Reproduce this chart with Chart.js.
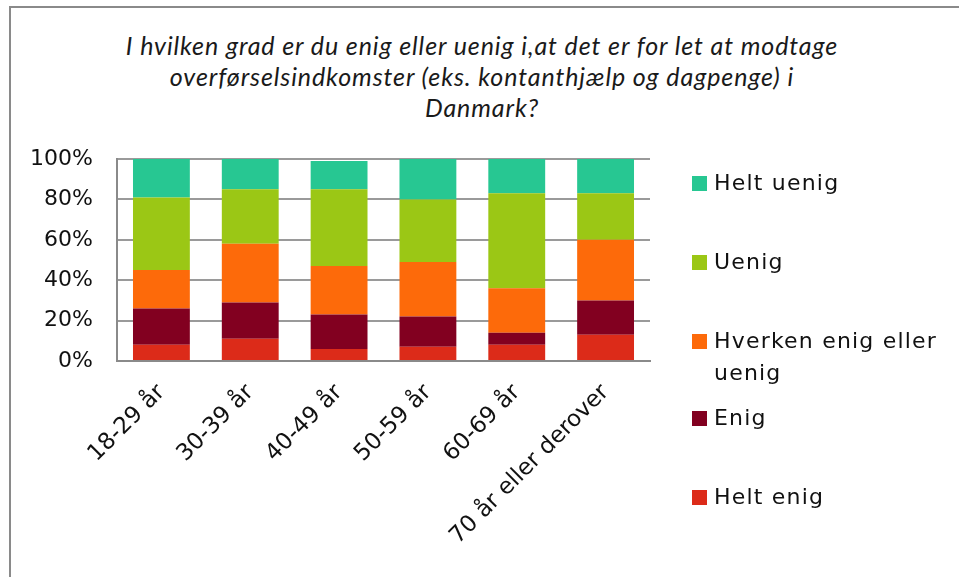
<!DOCTYPE html>
<html>
<head>
<meta charset="utf-8">
<script src="https://cdn.jsdelivr.net/npm/chart.js@4.4.0/dist/chart.umd.min.js"></script>
<style>
  body { margin: 0; background: #fff; }
  #wrap { position: relative; width: 959px; height: 577px; overflow: hidden; background: #fff; }
  #frame { position: absolute; left: 9px; top: 6px; width: 960px; height: 600px;
           border-left: 2px solid #8a8a8a; border-top: 2px solid #8a8a8a; }
  #title { position: absolute; left: 0; width: 964px; top: 30px; text-align: center;
           font-family: Lato, sans-serif; font-style: italic; font-size: 25px; letter-spacing: 0.9px;
           line-height: 31px; color: #1a1a1a; }
  #mychart { position: absolute; left: 0; top: 0; }
  .lg { position: absolute; left: 692px; font-family: "DejaVu Sans", sans-serif; font-size: 22px;
        letter-spacing: 1.2px; line-height: 32px; color: #111; width: 265px; }
  .lg i { position: absolute; left: 0; top: 9px; width: 15px; height: 15px; }
  .lg span { display: block; margin-left: 22px; }
</style>
</head>
<body>
<div id="wrap">
  <div id="frame"></div>
  <div id="title">I hvilken grad er du enig eller uenig i,at det er for let at modtage<br>overførselsindkomster (eks. kontanthjælp og dagpenge) i<br>Danmark?</div>
  <canvas id="mychart" width="959" height="577"></canvas>
  <div id="legend"></div>
</div>
<script>
// data
const labels = ['18-29 år', '30-39 år', '40-49 år', '50-59 år', '60-69 år', '70 år eller derover'];
const heltEnig = [8, 11, 6, 7, 8, 13];
const enig = [18, 18, 17, 15, 6, 17];
const hverken = [19, 29, 24, 27, 22, 30];
const uenig = [36, 27, 38, 31, 47, 23];
const heltUenig = [19, 15, 14, 20, 17, 17];
const yTicks = ['0%', '20%', '40%', '60%', '80%', '100%'];

const font = '"DejaVu Sans", sans-serif';

let ctx = document.getElementById('mychart');
let myChart = new Chart(ctx, {
  type: 'bar',
  data: {
    labels: labels,
    datasets: [
      { label: 'Helt enig', data: heltEnig, backgroundColor: '#dc2b19' },
      { label: 'Enig', data: enig, backgroundColor: '#820020' },
      { label: 'Hverken enig eller uenig', data: hverken, backgroundColor: '#fd6a0a' },
      { label: 'Uenig', data: uenig, backgroundColor: '#9bc715' },
      { label: 'Helt uenig', data: heltUenig, backgroundColor: '#27c792' },
    ],
  },
  options: {
    responsive: false,
    animation: false,
    layout: { padding: { left: 20, right: 309, top: 159, bottom: 0 } },
    plugins: {
      legend: { display: false },
      tooltip: { enabled: false },
    },
    datasets: { bar: { categoryPercentage: 1, barPercentage: 0.64 } },
    scales: {
      x: {
        stacked: true,
        grid: { display: false },
        border: { color: '#8a8a8a', width: 2 },
        ticks: { color: '#111', font: { family: font, size: 23 }, minRotation: 45, maxRotation: 45, padding: 10 },
        afterFit: (s) => { s.height = 216; },
      },
      y: {
        stacked: true,
        min: 0,
        max: 100,
        grid: { color: '#9a9a9a', lineWidth: 2, drawTicks: false },
        border: { color: '#8a8a8a', width: 2 },
        ticks: {
          stepSize: 20,
          color: '#111',
          padding: 24,
          font: { family: font, size: 22 },
          callback: (v) => yTicks[v / 20],
        },
        afterFit: (s) => { s.width = 97; },
      },
    },
  },
});

// legend (Excel style, reversed)
const lgTops = [167, 246, 325, 402, 481];
const legend = document.getElementById('legend');
myChart.data.datasets.slice().reverse().forEach((ds, i) => {
  let d = document.createElement('div');
  d.className = 'lg';
  d.style.top = lgTops[i] + 'px';
  let txt = ds.label === 'Hverken enig eller uenig' ? 'Hverken enig eller<br>uenig' : ds.label;
  d.innerHTML = '<i style="background:' + ds.backgroundColor + '"></i><span>' + txt + '</span>';
  legend.appendChild(d);
});
</script>
</body>
</html>
